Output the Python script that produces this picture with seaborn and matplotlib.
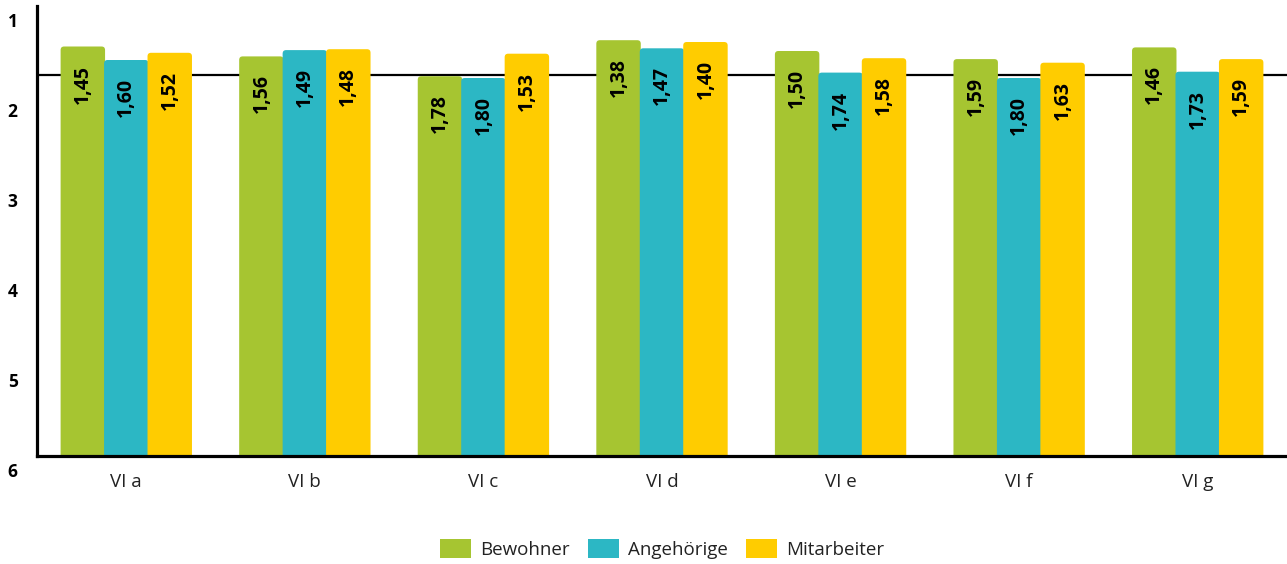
import pandas as pd
import matplotlib
matplotlib.use('Agg')
import matplotlib.pyplot as plt
import matplotlib.transforms as mtransforms
from matplotlib.patches import FancyBboxPatch, Patch
import seaborn as sns

# Chart data (school-grade scale: 1 = best at the top, 6 at the bottom)
groups = ['VI a', 'VI b', 'VI c', 'VI d', 'VI e', 'VI f', 'VI g']
bewohner = [1.45, 1.56, 1.78, 1.38, 1.50, 1.59, 1.46]
angehoerige = [1.60, 1.49, 1.80, 1.47, 1.74, 1.80, 1.73]
mitarbeiter = [1.52, 1.48, 1.53, 1.40, 1.58, 1.63, 1.59]
series_names = ['Bewohner', 'Angehörige', 'Mitarbeiter']
y_ticks = [1, 2, 3, 4, 5, 6]
reference_value = 1.77

colors = ['#A6C531', '#2CB7C4', '#FFCC00']
scale_bottom = 6

df = pd.DataFrame({
    'group': groups * 3,
    'series': [series_names[0]] * 7 + [series_names[1]] * 7 + [series_names[2]] * 7,
    'value': bewohner + angehoerige + mitarbeiter,
})
# bars grow from 6 upwards to the value
df['height'] = scale_bottom - df['value']

sns.set_theme(style='white')
plt.rcParams['font.family'] = ['Open Sans', 'DejaVu Sans']

fig = plt.figure(figsize=(12.87, 5.64), dpi=100)
ax = fig.add_axes([37 / 1287, 108 / 564, 1250 / 1287, 450 / 564])

sns.barplot(data=df, x='group', y='height', hue='series', hue_order=series_names,
            palette=colors, width=0.73, saturation=1, errorbar=None, ax=ax,
            linewidth=0, legend=False, zorder=2)

ax.set_ylim(0, scale_bottom - 1)
ax.set_xlim(-0.5, len(groups) - 0.5)

# swap the plain rectangles for ones with slightly rounded top corners
x_px = 1250 / len(groups)
y_px = 450 / (scale_bottom - 1)
radius = 3.5 / x_px
overlap = 1.0 / x_px  # close the hairline gaps between neighbouring bars
for container in ax.containers:
    for bar in container:
        x, w, h = bar.get_x(), bar.get_width(), bar.get_height()
        rounded = FancyBboxPatch((x - overlap / 2, -0.1), w + overlap, h + 0.1,
                                 boxstyle=f'round,pad=0,rounding_size={radius}',
                                 mutation_aspect=x_px / y_px,
                                 facecolor=bar.get_facecolor(), linewidth=0, zorder=2)
        ax.add_patch(rounded)
        bar.set_visible(False)

ax.axhline(scale_bottom - reference_value, color='black', linewidth=1.6, zorder=1)

# value labels, rotated, near the top inside each bar
for container in ax.containers:
    for bar in container:
        val = scale_bottom - bar.get_height()
        ax.annotate(f'{val:.2f}'.replace('.', ','),
                    xy=(bar.get_x() + bar.get_width() / 2, bar.get_height()),
                    xytext=(0, -13), textcoords='offset points',
                    rotation=90, ha='center', va='top',
                    fontsize=14, fontweight='bold', color='black', zorder=3)

ax.set_yticks([scale_bottom - t for t in y_ticks])
ax.set_yticklabels([str(t) for t in y_ticks], fontsize=12.5, fontweight='bold', color='black')
ax.tick_params(axis='y', length=0, pad=14)
ax.tick_params(axis='x', length=0, pad=12, labelsize=13.5, labelcolor='#222222')
offset = mtransforms.ScaledTranslation(0, -14 / 100, fig.dpi_scale_trans)
for label in ax.get_yticklabels():
    label.set_transform(label.get_transform() + offset)

ax.set_xlabel('')
ax.set_ylabel('')
for side in ['top', 'right']:
    ax.spines[side].set_visible(False)
for side in ['left', 'bottom']:
    ax.spines[side].set_color('black')
    ax.spines[side].set_linewidth(2.3)
    ax.spines[side].set_zorder(4)

handles = [Patch(facecolor=c, linewidth=0, label=n) for c, n in zip(colors, series_names)]
ax.legend(handles=handles, loc='center', bbox_to_anchor=(0.5, -0.207), ncol=3,
          frameon=False, fontsize=13.5, handlelength=1.65, handleheight=1.2,
          handletextpad=0.5, columnspacing=0.95, labelcolor='#222222')

fig.savefig('out.png', dpi=100)
plt.close(fig)
